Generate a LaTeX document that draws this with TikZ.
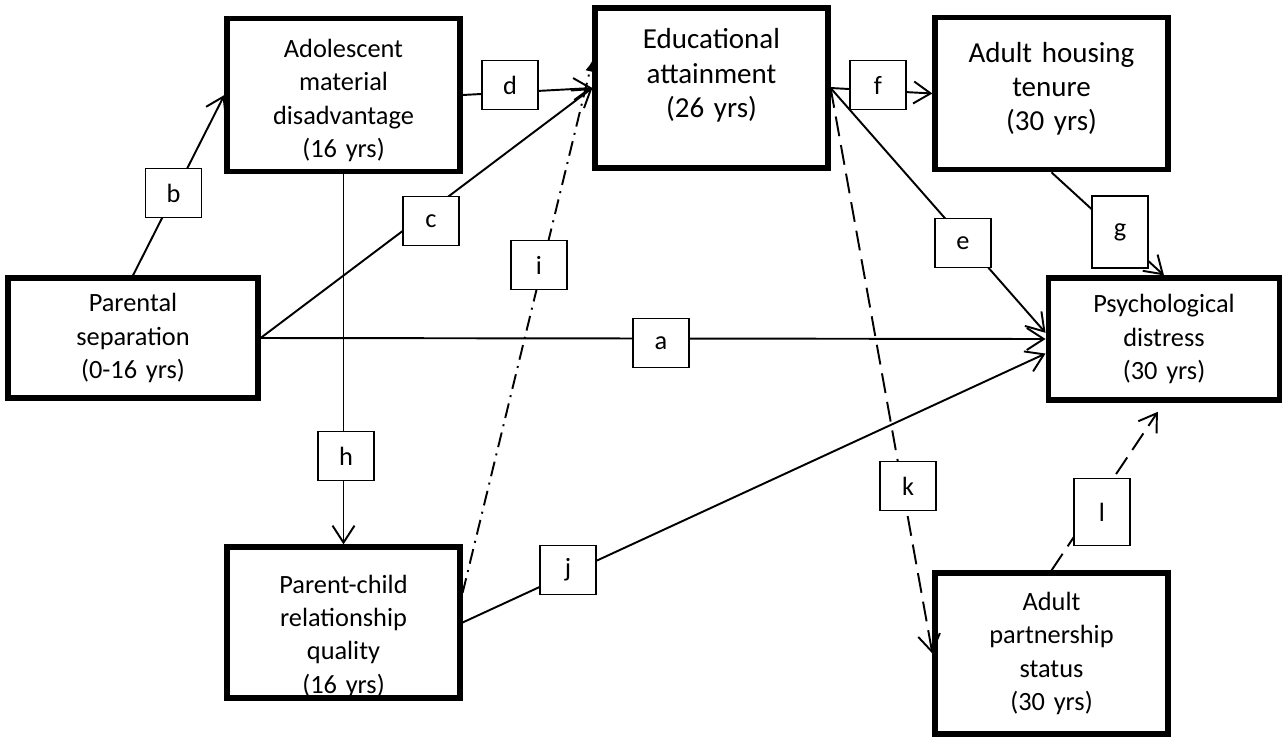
\documentclass[tikz,border=0pt]{standalone}
\usepackage{fontspec}
\setmainfont{Carlito}
\usetikzlibrary{arrows.meta,positioning}
\tikzset{
  var/.style={rectangle, minimum width=4.66cm, minimum height=3.05cm, text width=4.4cm, align=center, draw=black, line width=3pt, font=\fontsize{15}{19}\selectfont},
  lb/.style={rectangle, minimum width=1.12cm, minimum height=0.98cm, draw=black, line width=0.8pt, fill=white, font=\fontsize{15}{19}\selectfont},
  pth/.style={line width=1.1pt, -{Straight Barb[length=3.4mm,width=4.4mm]}},
  big/.style={font=\fontsize{16.5}{19.5}\selectfont},
  node distance=7mm
}

\begin{document}
\begin{tikzpicture}[x=0.02cm, y=-0.02cm]
	\useasboundingbox (0,0) rectangle (1282,738);
	\node[var, minimum width=5cm, minimum height=2.4cm] (sep) at (133,338) {Parental\\separation\\(0-16 yrs)};
	\node[var, text depth=53pt] (adol) at (343.5,95) {Adolescent\\material\\disadvantage\\(16 yrs)};
	\node[var, big, minimum height=3.2cm, text depth=56pt] (edu) at (711.5,88) {Educational\\attainment\\(26 yrs)};
	\node[var, big, text depth=47pt] (house) at (1051.5,93.5) {Adult housing\\tenure\\(30 yrs)};
	\node[var, minimum width=4.56cm, minimum height=2.44cm] (psych) at (1164,339) {Psychological\\distress\\(30 yrs)};
	\node[var, minimum height=3.02cm, text depth=44pt] (pc) at (343.5,622.5) {Parent-child\\relationship\\quality\\(16 yrs)};
	\node[var, minimum height=3.22cm] (part) at (1051.5,653.5) {Adult\\partnership\\status\\(30 yrs)};
	%
	\draw[pth] (sep.east) -- (psych.west);
	\draw[pth] (sep.north) -- (adol.west);
	\draw[pth] (sep.east) -- (edu.west);
	\draw[pth] (adol.east) -- (edu.west);
	\draw[pth] (edu.east) -- (psych.177);
	\draw[pth] (edu.east) -- (house.west);
	\draw[pth] (house.south) -- (psych.north);
	\draw[pth] (adol.south) -- (pc.north);
	\draw[line width=1.1pt, dash pattern=on 3mm off 1.3mm on 0.4mm off 1.3mm, -{Latex[length=2.2mm,width=1.8mm]}] (pc.14) -- (edu.167);
	\draw[pth] (pc.east) -- (psych.187);
	\draw[pth, dash pattern=on 4mm off 1.8mm] (edu.east) -- (part.west);
	\draw[pth, dash pattern=on 4mm off 1.8mm, shorten >=2.2mm] (part.north) -- (psych.south);
	%
	\node[lb] (la) at (661,343) {a};
	\node[lb] (lbb) at (173.5,193) {b};
	\node[lb] (lc) at (431,221) {c};
	\node[lb] (ld) at (510,85) {d};
	\node[lb] (le) at (963,243) {e};
	\node[lb] (lf) at (878,85) {f};
	\node[lb, minimum height=1.44cm] (lg) at (1120,232) {g};
	\node[lb] (lh) at (346,456) {h};
	\node[lb] (li) at (539,265) {i};
	\node[lb] (lj) at (568,570) {j};
	\node[lb] (lk) at (908,486) {k};
	\node[lb, minimum height=1.34cm] (ll) at (1102,512) {l};
\end{tikzpicture}
\end{document}
